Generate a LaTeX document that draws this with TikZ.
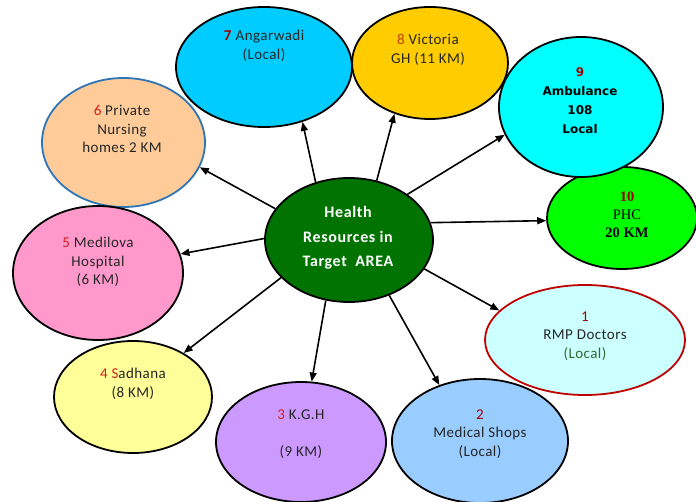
\documentclass[tikz,border=0pt]{standalone}
\usepackage{fontspec}
\setmainfont{Carlito}
\newfontfamily\verd{DejaVu Sans}
\newfontfamily\tms{Liberation Serif}
\newfontfamily\carsp[LetterSpace=3]{Carlito}
\newfontfamily\carspb[LetterSpace=4]{Carlito}
\usetikzlibrary{shapes.geometric,arrows.meta}
\definecolor{cAng}{HTML}{00CCFF}
\definecolor{cVic}{HTML}{FFCC00}
\definecolor{cAmb}{HTML}{00FFFF}
\definecolor{cPHC}{HTML}{00FF00}
\definecolor{cPri}{HTML}{FFCC99}
\definecolor{cPriB}{HTML}{2E75B6}
\definecolor{cMed}{HTML}{FF99CC}
\definecolor{cSad}{HTML}{FFFF99}
\definecolor{cKGH}{HTML}{CC99FF}
\definecolor{cShop}{HTML}{99CCFF}
\definecolor{cRMP}{HTML}{CCFFFF}
\definecolor{cRMPB}{HTML}{C00000}
\definecolor{cCen}{HTML}{007300}
\definecolor{numred}{HTML}{A00000}
\definecolor{numorange}{HTML}{C04000}
\definecolor{numbright}{HTML}{D02020}
\definecolor{locgreen}{HTML}{2E6B30}
\begin{document}
\begin{tikzpicture}[x=1pt,y=-1pt,
  bub/.style={ellipse,draw=black,line width=1.8pt,inner sep=0pt},
  txt/.style={align=center,font=\carsp\fontsize{15}{18.5}\selectfont,text=black!85},
  arr/.style={-{Triangle[length=9pt,width=7pt]},line width=1.6pt}]
\useasboundingbox (0,0) rectangle (696,502);
\clip (0,0) rectangle (696,502);
% bubbles
\node[bub,fill=cAng,minimum width=176pt,minimum height=120pt] (n7) at (264,67) {};
\node[bub,fill=cVic,minimum width=156pt,minimum height=112pt] (n8) at (430,63) {};
\node[bub,fill=cPHC,minimum width=150pt,minimum height=102pt] (n10) at (622,218) {};
\node[bub,fill=cAmb,minimum width=164pt,minimum height=140pt] (n9) at (581,107) {};
\node[bub,fill=cPri,draw=cPriB,minimum width=163pt,minimum height=129pt] (n6) at (123.5,142.5) {};
\node[bub,fill=cMed,minimum width=170pt,minimum height=134pt] (n5) at (98,273) {};
\node[bub,fill=cSad,minimum width=158pt,minimum height=112pt] (n4) at (133,397) {};
\node[bub,fill=cKGH,minimum width=170pt,minimum height=120pt] (n3) at (301,442) {};
\node[bub,fill=cShop,minimum width=176pt,minimum height=124pt] (n2) at (480,441) {};
\node[bub,fill=cRMP,draw=cRMPB,minimum width=200pt,minimum height=110pt] (n1) at (585,340) {};
\node[bub,fill=cCen,minimum width=168pt,minimum height=124pt] (c) at (349,240) {};
% arrows
\draw[arr] (c.120) -- (n7.-55.5);
\draw[arr] (c.65) -- (n8.-125.6);
\draw[arr] (c.38) -- (n9.-160);
\draw[arr] (c.12.7) -- (n10.-178);
\draw[arr] (c.-21) -- (n1.161.8);
\draw[arr] (c.-54.6) -- (n2.126.9);
\draw[arr] (c.-111) -- (n3.80.4);
\draw[arr] (c.-151.8) -- (n4.41.3);
\draw[arr] (c.179) -- (n5.13.5);
\draw[arr] (c.157.7) -- (n6.-18.9);
% texts
\node[txt] (t7) at (264,46) {\textcolor{numred}{\textbf{7}} Angarwadi\\(Local)};
\node[txt] (t8) at (428,50) {\textcolor{numorange}{8} Victoria\\GH (11 KM)};
\node[txt,font=\verd\bfseries\fontsize{12}{19}\selectfont,text=black] (t9) at (580,101)
  {\textcolor{numred}{9}\\Ambulance\\108\\Local};
\node[txt,font=\tms\fontsize{14.5}{18}\selectfont,text=black] (t10) at (627,215)
  {\textcolor{numred}{\textbf{10}}\\PHC\\\textbf{20 KM}};
\node[txt] (t6) at (122,129) {\textcolor{numbright}{6} Private\\Nursing\\homes 2 KM};
\node[txt] (t5) at (98,262) {\textcolor{numbright}{5} Medilova\\Hospital\\(6 KM)};
\node[txt] (t4) at (133,384) {\textcolor{numbright}{4 S}adhana\\(8 KM)};
\node[txt] (t3) at (301,434) {\textcolor{numbright}{3} K.G.H\\[18.5pt](9 KM)};
\node[txt] (t2) at (480,434) {\textcolor{numred}{2}\\Medical Shops\\(Local)};
\node[txt] (t1) at (585,336) {\textcolor{numred}{1}\\RMP Doctors\\\textcolor{locgreen}{(Local)}};
\node[txt,font=\carspb\bfseries\fontsize{16}{24.5}\selectfont,text=white] (tc) at (348,238)
  {Health\\Resources in\\Target\ \ AREA};
\end{tikzpicture}
\end{document}
